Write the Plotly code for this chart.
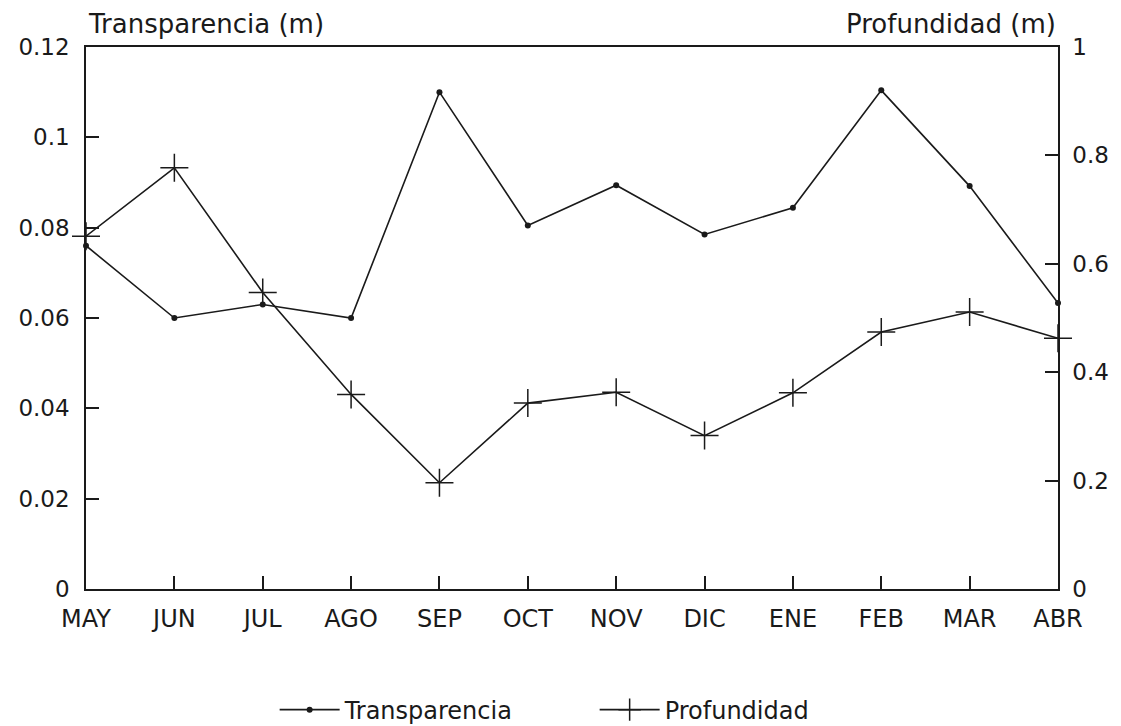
import plotly.graph_objects as go

months = ["MAY", "JUN", "JUL", "AGO", "SEP", "OCT", "NOV", "DIC", "ENE", "FEB", "MAR", "ABR"]
transparencia = [0.076, 0.060, 0.063, 0.060, 0.110, 0.0805, 0.0894, 0.0785, 0.0844, 0.1104, 0.0892, 0.0633]
profundidad = [0.651, 0.777, 0.547, 0.359, 0.196, 0.343, 0.363, 0.283, 0.362, 0.474, 0.511, 0.4625]

FONT = "DejaVu Sans"
INK = "#1a1a1a"

fig = go.Figure()
fig.add_trace(go.Scatter(
    x=months, y=transparencia, name="Transparencia", mode="lines+markers",
    line=dict(color=INK, width=1.6),
    marker=dict(symbol="circle", size=6, color=INK),
    cliponaxis=False, yaxis="y",
))
fig.add_trace(go.Scatter(
    x=months, y=profundidad, name="Profundidad", mode="lines+markers",
    line=dict(color=INK, width=1.6),
    marker=dict(symbol="cross-thin", size=20, color=INK, line=dict(color=INK, width=1.5)),
    cliponaxis=False, yaxis="y2",
))

tick_font = dict(family=FONT, size=23, color=INK)

fig.update_layout(
    width=1121, height=726,
    margin=dict(l=86, r=59, t=47, b=137),
    paper_bgcolor="white", plot_bgcolor="white",
    font=dict(family=FONT, size=22, color=INK),
    showlegend=True,
    legend=dict(orientation="h", xref="container", x=0.245, xanchor="left",
                yref="container", y=0.022, yanchor="middle",
                font=dict(family=FONT, size=24, color=INK),
                entrywidth=245, entrywidthmode="pixels", itemwidth=60,
                bgcolor="rgba(0,0,0,0)"),
    xaxis=dict(
        type="category", range=[0, 11],
        showline=True, linecolor=INK, linewidth=1.5, mirror=True,
        ticks="inside", ticklen=13, tickwidth=1.5, tickcolor=INK,
        showgrid=False, zeroline=False,
        tickfont=dict(family=FONT, size=24, color=INK),
        ticklabelstandoff=7,
    ),
    yaxis=dict(
        range=[0, 0.12], dtick=0.02, tick0=0,
        showline=True, linecolor=INK, linewidth=1.5,
        ticks="inside", ticklen=13, tickwidth=1.5, tickcolor=INK,
        showgrid=False, zeroline=False,
        tickfont=tick_font, ticklabelstandoff=10,
    ),
    yaxis2=dict(
        range=[0, 1], dtick=0.2, tick0=0, overlaying="y", side="right",
        showline=True, linecolor=INK, linewidth=1.5,
        ticks="inside", ticklen=13, tickwidth=1.5, tickcolor=INK,
        showgrid=False, zeroline=False,
        tickfont=tick_font, ticklabelstandoff=8,
    ),
    annotations=[
        dict(text="Transparencia (m)", xref="paper", yref="paper", x=0, y=1,
             xanchor="left", yanchor="bottom", yshift=6, showarrow=False,
             font=dict(family=FONT, size=26, color=INK)),
        dict(text="Profundidad (m)", xref="paper", yref="paper", x=1, y=1,
             xanchor="right", yanchor="bottom", yshift=6, showarrow=False,
             font=dict(family=FONT, size=26, color=INK)),
    ],
)

fig.write_html("out.html")
